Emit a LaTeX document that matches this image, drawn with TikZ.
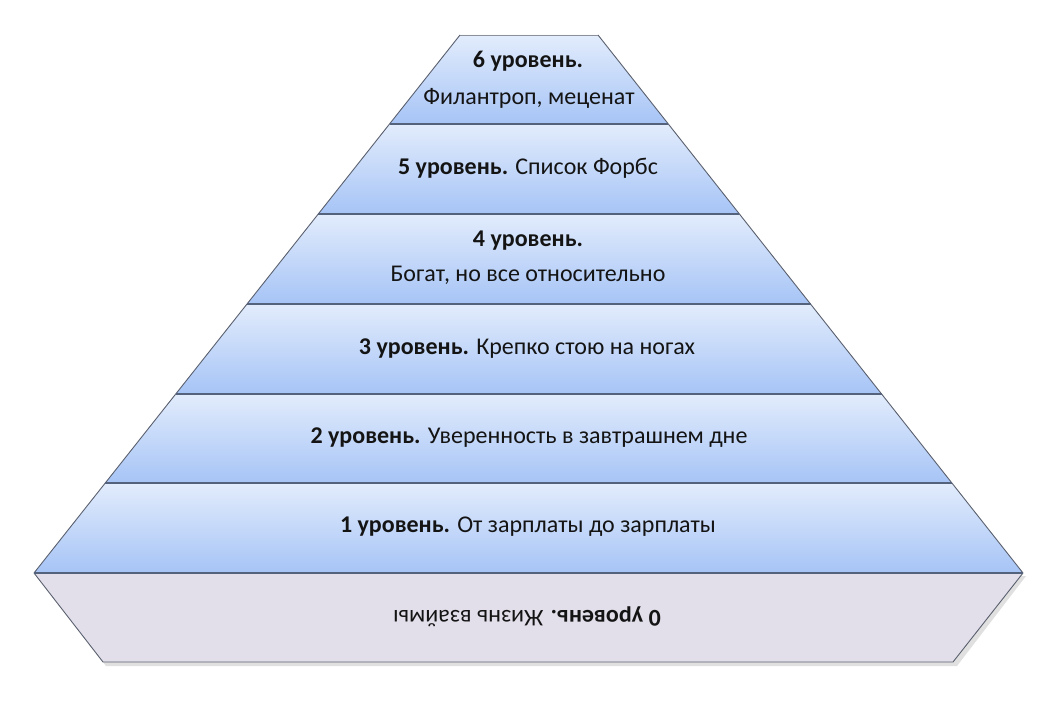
\documentclass[tikz,border=0pt]{standalone}
\usepackage{fontspec}
\setmainfont{Carlito}
\definecolor{bandtop}{RGB}{226,236,252}
\definecolor{bandbot}{RGB}{166,196,246}
\definecolor{sepline}{RGB}{84,98,124}
\definecolor{sideline}{RGB}{90,96,110}
\definecolor{basefill}{RGB}{226,223,234}
\definecolor{txt}{RGB}{20,20,20}
\tikzset{
  band/.style={top color=bandtop, bottom color=bandbot, draw=none},
  base/.style={fill=basefill, draw=none},
  sep/.style={draw=sepline, line width=1.6pt},
  side/.style={draw=sideline, line width=0.9pt},
  lbl/.style={font=\fontsize{24}{28}\selectfont, text=txt, inner sep=0pt, anchor=center}
}
\begin{document}
\begin{tikzpicture}[x=1pt,y=-1pt]
\useasboundingbox (0,0) rectangle (1050,706);
\fill[white] (0,0) rectangle (1050,706);
% shadow of base
\fill[black!12] (37,576) -- (1026,576) -- (957,666) -- (106,666) -- cycle;
% coordinates
\coordinate (l6) at (460,35);   \coordinate (r6) at (598,35);
\coordinate (l5) at (389.5,124); \coordinate (r5) at (668.3,124);
\coordinate (l4) at (318.3,214); \coordinate (r4) at (739.4,214);
\coordinate (l3) at (247,304);  \coordinate (r3) at (810.5,304);
\coordinate (l2) at (175.7,394); \coordinate (r2) at (881.6,394);
\coordinate (l1) at (105.3,483); \coordinate (r1) at (951.9,483);
\coordinate (l0) at (34,573);   \coordinate (r0) at (1023,573);
\coordinate (bl) at (103,662);  \coordinate (br) at (953,662);
% bands
\shade[band] (l6) -- (r6) -- (r5) -- (l5) -- cycle;
\shade[band] (l5) -- (r5) -- (r4) -- (l4) -- cycle;
\shade[band] (l4) -- (r4) -- (r3) -- (l3) -- cycle;
\shade[band] (l3) -- (r3) -- (r2) -- (l2) -- cycle;
\shade[band] (l2) -- (r2) -- (r1) -- (l1) -- cycle;
\shade[band] (l1) -- (r1) -- (r0) -- (l0) -- cycle;
\fill[base] (l0) -- (r0) -- (br) -- (bl) -- cycle;
% outlines
\draw[side] (l0) -- (l6);
\draw[side] (r0) -- (r6);
\draw[draw=sideline!70, line width=0.8pt] (l6) -- (r6);
\draw[side] (l0) -- (bl) -- (br) -- (r0);
\draw[sep] (l5) -- (r5);
\draw[sep] (l4) -- (r4);
\draw[sep] (l3) -- (r3);
\draw[sep] (l2) -- (r2);
\draw[sep] (l1) -- (r1);
\draw[sep] (l0) -- (r0);
% labels
\node[lbl] (t6a) at (528,61) {\textbf{6 уровень.}};
\node[lbl] (t6b) at (529,98) {Филантроп, меценат};
\node[lbl] (t5) at (528,168) {\textbf{5 уровень.} Список Форбс};
\node[lbl] (t4a) at (528,241) {\textbf{4 уровень.}};
\node[lbl] (t4b) at (528,275) {Богат, но все относительно};
\node[lbl] (t3) at (527,349) {\textbf{3 уровень.} Крепко стою на ногах};
\node[lbl] (t2) at (529,438) {\textbf{2 уровень.} Уверенность в завтрашнем дне};
\node[lbl] (t1) at (528,527) {\textbf{1 уровень.} От зарплаты до зарплаты};
\node[lbl, rotate=180] (t0) at (527,617) {\textbf{0 уровень.} Жизнь взаймы};
\end{tikzpicture}
\end{document}
